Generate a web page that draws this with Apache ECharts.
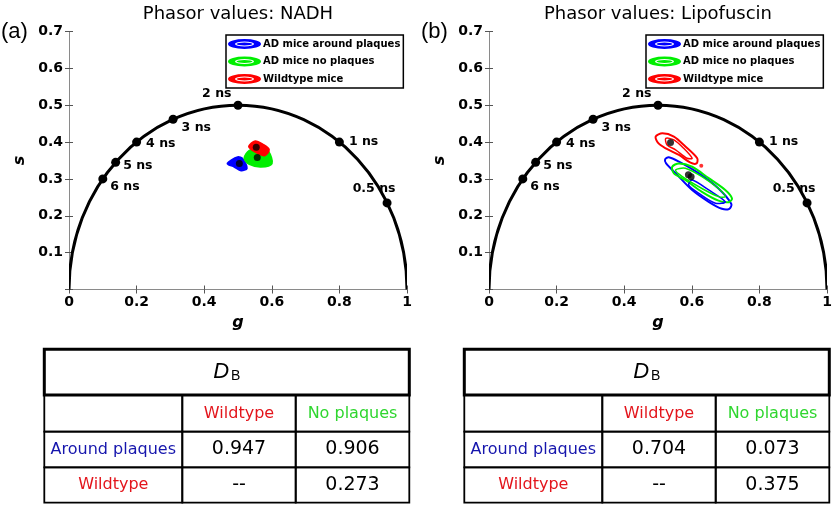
<!DOCTYPE html>
<html>
<head>
<meta charset="utf-8">
<title>Phasor values</title>
<script src="https://cdn.jsdelivr.net/npm/echarts@6.0.0/dist/echarts.min.js"></script>
<style>
html, body { margin: 0; padding: 0; background: #fff; }
#chart { width: 835px; height: 507px; }
</style>
</head>
<body>
<div id="chart"></div>
<script>
var panelTitles = ['Phasor values: NADH', 'Phasor values: Lipofuscin'];
var panelTags = ['(a)', '(b)'];
var groupNames = ['AD mice around plaques', 'AD mice no plaques', 'Wildtype mice'];
var groupColors = ['#0000ff', '#00ee00', '#ff0000'];

// universal circle and lifetime markers
var circleCenter = [0.5, 0];
var circleRadius = 0.5;
var lifetimeLabels = ['0.5 ns', '1 ns', '2 ns', '3 ns', '4 ns', '5 ns', '6 ns'];
var lifetimeG = [0.941, 0.8, 0.5, 0.308, 0.2, 0.138, 0.1];
var lifetimeS = [0.235, 0.4, 0.5, 0.462, 0.4, 0.345, 0.3];

// NADH contours (g, s)
var nadhAround = [[0.469, 0.342], [0.499, 0.359], [0.514, 0.354], [0.526, 0.329], [0.509, 0.323], [0.489, 0.333]];
var nadhNoPlaques = [[0.519, 0.356], [0.534, 0.377], [0.568, 0.383], [0.590, 0.374], [0.600, 0.342], [0.568, 0.333], [0.534, 0.340]];
var nadhWildtype = [[0.534, 0.388], [0.551, 0.401], [0.573, 0.392], [0.590, 0.379], [0.578, 0.365], [0.560, 0.371], [0.544, 0.379]];
var nadhCenters = [[0.504, 0.342], [0.557, 0.358], [0.554, 0.386]];

// Lipofuscin contours (g, s): outer level, then an inner level
var lipoAround = [[0.521, 0.353], [0.532, 0.359], [0.562, 0.347], [0.621, 0.315], [0.679, 0.274], [0.717, 0.232], [0.711, 0.219], [0.689, 0.219], [0.650, 0.238], [0.601, 0.270], [0.557, 0.311], [0.524, 0.342]];
var lipoNoPlaques = [[0.542, 0.333], [0.562, 0.342], [0.601, 0.333], [0.650, 0.302], [0.699, 0.270], [0.719, 0.247], [0.709, 0.237], [0.679, 0.241], [0.630, 0.265], [0.581, 0.297], [0.547, 0.315]];
var lipoWildtype = [[0.493, 0.415], [0.513, 0.424], [0.547, 0.415], [0.581, 0.388], [0.616, 0.356], [0.614, 0.342], [0.596, 0.344], [0.562, 0.365], [0.523, 0.383], [0.501, 0.397]];
var lipoAroundInner = [[0.601, 0.297], [0.650, 0.270], [0.699, 0.238], [0.670, 0.234], [0.621, 0.261], [0.591, 0.283]];
var lipoNoPlaquesInner = [[0.552, 0.324], [0.581, 0.329], [0.630, 0.306], [0.679, 0.274], [0.699, 0.252], [0.679, 0.252], [0.630, 0.274], [0.572, 0.306]];
var lipoWildtypeInner = [[0.523, 0.410], [0.547, 0.406], [0.576, 0.383], [0.601, 0.356], [0.586, 0.356], [0.552, 0.379], [0.527, 0.392]];
var lipoCenters = [[0.598, 0.306], [0.590, 0.311], [0.537, 0.399]];
var lipoStray = [[0.628, 0.336]];

// D_B table
var tableCols = ['Wildtype', 'No plaques'];
var tableRows = ['Around plaques', 'Wildtype'];
var nadhDB = [['0.947', '0.906'], ['--', '0.273']];
var lipoDB = [['0.704', '0.073'], ['--', '0.375']];
var colTextColors = ['#e3151c', '#2fd62f'];
var rowTextColors = ['#1616ad', '#e3151c'];

var FONT = '"DejaVu Sans", Verdana, sans-serif';
var gridLeft = [69, 489];

// filled ellipse with a thin white ring, like the matlab legend patches
var legendIcon = 'path://M0,5A16.5,5,0,1,0,33,5A16.5,5,0,1,0,0,5Z' +
	'M7,5A9.5,2.6,0,1,1,26,5A9.5,2.6,0,1,1,7,5Z' +
	'M8.5,5A8,1.5,0,1,0,24.5,5A8,1.5,0,1,0,8.5,5Z';

var labelPlace = [
	{ position: 'top', offset: [-13, 2] },
	{ position: 'right', offset: [0, 0] },
	{ position: 'left', offset: [3, -11] },
	{ position: 'right', offset: [-1, 9] },
	{ position: 'right', offset: [0, 2] },
	{ position: 'right', offset: [-2, 3] },
	{ position: 'right', offset: [-2, 8] }
];

function circleSeries(p) {
	return {
		type: 'custom', xAxisIndex: p * 2, yAxisIndex: p * 2, clip: true, silent: true, z: 3,
		data: [[circleCenter[0], circleCenter[1], circleRadius]],
		renderItem: function (params, api) {
			var c = api.coord([api.value(0), api.value(1)]);
			var r = api.size([api.value(2), api.value(2)]);
			return {
				type: 'ellipse',
				shape: { cx: c[0], cy: c[1], rx: r[0], ry: r[1] },
				style: { fill: 'none', stroke: '#000', lineWidth: 3 }
			};
		}
	};
}

function lifetimeSeries(p) {
	return {
		type: 'scatter', xAxisIndex: p * 2, yAxisIndex: p * 2, z: 4, silent: true,
		symbolSize: 9,
		itemStyle: { color: '#000', opacity: 1 },
		label: {
			show: true, formatter: '{b}', color: '#000', opacity: 1, textBorderWidth: 0,
			fontFamily: FONT, fontWeight: 'bold', fontSize: 12.5
		},
		data: lifetimeG.map(function (g, i) {
			return { name: lifetimeLabels[i], value: [g, lifetimeS[i]], label: labelPlace[i] };
		})
	};
}

function contourSeries(p, k, pts, filled, width, named) {
	var color = groupColors[k];
	return {
		type: 'custom', name: named ? groupNames[k] : undefined, xAxisIndex: p * 2, yAxisIndex: p * 2, z: 2,
		itemStyle: { color: color },
		data: pts,
		renderItem: function (params, api) {
			if (params.dataIndex !== 0) return null;
			var poly = pts.map(function (v) { return api.coord(v); });
			return {
				type: 'polygon',
				shape: { points: poly, smooth: 0.3 },
				style: { fill: filled ? color : 'none', stroke: color, lineWidth: width, lineJoin: 'round' }
			};
		}
	};
}

function dotSeries(p, pts, size, color) {
	return {
		type: 'scatter', xAxisIndex: p * 2, yAxisIndex: p * 2, z: 5, silent: true,
		symbolSize: size, itemStyle: { color: color }, data: pts
	};
}

var xAxes = [], yAxes = [], grids = [], legends = [];
[0, 1].forEach(function (p) {
	grids.push({ left: gridLeft[p], top: 31.5, width: 338, height: 258 });
	var lineStyle = { color: '#8a8a8a', width: 1 };
	var tickStyle = { inside: true, length: 4, lineStyle: { color: '#555' } };
	xAxes.push({
		type: 'value', gridIndex: p, min: 0, max: 1, interval: 0.2,
		name: 'g', nameLocation: 'middle', nameGap: 21,
		nameTextStyle: { fontFamily: FONT, fontWeight: 'bold', fontStyle: 'italic', fontSize: 16, color: '#000' },
		axisLine: { lineStyle: lineStyle }, axisTick: tickStyle, splitLine: { show: false },
		axisLabel: {
			margin: 6, fontFamily: FONT, fontWeight: 'bold', fontSize: 14, color: '#000',
			formatter: function (v) { return (v === 0 || v === 1) ? String(v) : v.toFixed(1); }
		}
	});
	xAxes.push({
		type: 'value', gridIndex: p, position: 'top', min: 0, max: 1, interval: 0.2,
		axisLine: { lineStyle: lineStyle }, axisTick: tickStyle, splitLine: { show: false },
		axisLabel: { show: false }
	});
	yAxes.push({
		type: 'value', gridIndex: p, min: 0, max: 0.7, interval: 0.1,
		name: 's', nameLocation: 'middle', nameGap: 41,
		nameTextStyle: { fontFamily: FONT, fontWeight: 'bold', fontStyle: 'italic', fontSize: 16, color: '#000' },
		axisLine: { show: true, lineStyle: lineStyle }, axisTick: tickStyle, splitLine: { show: false },
		axisLabel: {
			margin: 6, fontFamily: FONT, fontWeight: 'bold', fontSize: 14, color: '#000',
			formatter: function (v) { return v === 0 ? '' : v.toFixed(1); }
		}
	});
	yAxes.push({
		type: 'value', gridIndex: p, position: 'right', min: 0, max: 0.7, interval: 0.1,
		axisLine: { show: true, lineStyle: lineStyle }, axisTick: tickStyle, splitLine: { show: false },
		axisLabel: { show: false }
	});
	legends.push({
		data: groupNames, orient: 'vertical', left: gridLeft[p] + 157, top: 35,
		backgroundColor: '#fff', borderColor: '#000', borderWidth: 1.5,
		padding: [4, 3, 4, 2], itemGap: 7.5, itemWidth: 33, itemHeight: 10,
		icon: legendIcon,
		selectedMode: false,
		textStyle: { fontFamily: FONT, fontWeight: 'bold', fontSize: 10, color: '#000', padding: [0, 0, 0, -3] }
	});
});

var series = [
	circleSeries(0), lifetimeSeries(0),
	contourSeries(0, 0, nadhAround, true, 2, true),
	contourSeries(0, 1, nadhNoPlaques, true, 2, true),
	contourSeries(0, 2, nadhWildtype, true, 3, true),
	dotSeries(0, nadhCenters, 7, '#000'),
	circleSeries(1), lifetimeSeries(1),
	contourSeries(1, 0, lipoAround, false, 2, true),
	contourSeries(1, 1, lipoNoPlaques, false, 2, true),
	contourSeries(1, 2, lipoWildtype, false, 2, true),
	contourSeries(1, 0, lipoAroundInner, false, 1.5, false),
	contourSeries(1, 1, lipoNoPlaquesInner, false, 1.5, false),
	contourSeries(1, 2, lipoWildtypeInner, false, 1.5, false),
	dotSeries(1, lipoCenters, 7, '#000'),
	dotSeries(1, lipoStray, 4, '#ff0000')
];

// title texts and tables
var graphics = [];
[0, 1].forEach(function (p) {
	var off = p * 420;
	graphics.push({
		type: 'text', x: gridLeft[p] + 169, y: 14,
		style: { text: panelTitles[p], font: '18px ' + FONT, fill: '#000', textAlign: 'center', textVerticalAlign: 'middle' }
	});
	graphics.push({
		type: 'text', x: 1 + off, y: 32,
		style: { text: panelTags[p], font: '22px "Liberation Sans", Arial, sans-serif', fill: '#000', textAlign: 'left', textVerticalAlign: 'middle' }
	});

	var vals = p === 0 ? nadhDB : lipoDB;
	var xs = [44.3 + off, 182.3 + off, 295.7 + off, 409.3 + off];
	var ys = [395, 431.7, 467.3, 502.7];
	for (var r = 0; r < 3; r++) {
		for (var c = 0; c < 3; c++) {
			graphics.push({
				type: 'rect',
				shape: { x: xs[c], y: ys[r], width: xs[c + 1] - xs[c], height: ys[r + 1] - ys[r] },
				style: { fill: 'none', stroke: '#000', lineWidth: 1.8 }
			});
			var txt = '', col = '#000', font = '16px ' + FONT;
			if (r === 0 && c > 0) { txt = tableCols[c - 1]; col = colTextColors[c - 1]; }
			else if (r > 0 && c === 0) { txt = tableRows[r - 1]; col = rowTextColors[r - 1]; }
			else if (r > 0) { txt = vals[r - 1][c - 1]; font = '19px ' + FONT; }
			if (txt) {
				graphics.push({
					type: 'text', x: (xs[c] + xs[c + 1]) / 2, y: (ys[r] + ys[r + 1]) / 2,
					style: { text: txt, font: font, fill: col, textAlign: 'center', textVerticalAlign: 'middle' }
				});
			}
		}
	}
	graphics.push({
		type: 'rect',
		shape: { x: xs[0], y: 349.3, width: xs[3] - xs[0], height: 395 - 349.3 },
		style: { fill: 'none', stroke: '#000', lineWidth: 3 }
	});
	graphics.push({
		type: 'text', x: (xs[0] + xs[3]) / 2, y: 372,
		style: {
			text: '{d|D}{b|B}', textAlign: 'center', textVerticalAlign: 'middle',
			rich: {
				d: { font: 'italic 22px "Liberation Sans", Arial, sans-serif', fill: '#000' },
				b: { font: '14px "Liberation Sans", Arial, sans-serif', fill: '#000', padding: [8, 0, 0, 2] }
			}
		}
	});
});

var myChart = echarts.init(document.getElementById('chart'));
myChart.setOption({
	animation: false,
	backgroundColor: '#fff',
	grid: grids,
	xAxis: xAxes,
	yAxis: yAxes,
	legend: legends,
	series: series,
	graphic: graphics
});
</script>
</body>
</html>
